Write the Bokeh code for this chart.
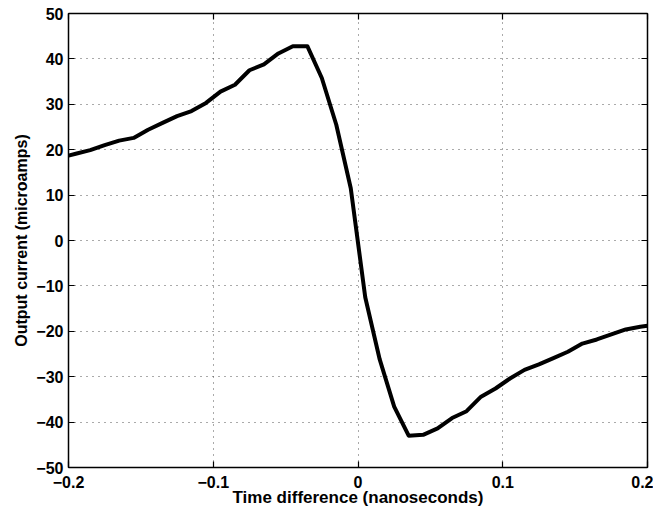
from bokeh.plotting import figure
from bokeh.models import LinearAxis, FixedTicker, CustomJSTickFormatter, Range1d
from bokeh.embed import file_html
from bokeh.resources import INLINE

# Data
time_ns = [-0.2, -0.195, -0.185, -0.175, -0.165, -0.155, -0.145, -0.135, -0.125, -0.115,
           -0.105, -0.095, -0.085, -0.075, -0.065, -0.055, -0.045, -0.035, -0.025, -0.015,
           -0.005, 0.005, 0.015, 0.025, 0.035, 0.045, 0.055, 0.065, 0.075, 0.085,
           0.095, 0.105, 0.115, 0.125, 0.135, 0.145, 0.155, 0.165, 0.175, 0.185,
           0.195, 0.2]
current_ua = [18.7, 19.1, 19.9, 21.0, 22.0, 22.6, 24.4, 25.9, 27.4, 28.5,
              30.3, 32.8, 34.3, 37.5, 38.8, 41.2, 42.8, 42.8, 35.8, 25.5,
              11.5, -12.5, -26.2, -36.6, -43.0, -42.8, -41.4, -39.1, -37.6, -34.4,
              -32.6, -30.4, -28.5, -27.3, -25.9, -24.5, -22.7, -21.8, -20.7, -19.6,
              -19.0, -18.8]
x_ticks = [-0.2, -0.1, 0.0, 0.1, 0.2]
y_ticks = [-50, -40, -30, -20, -10, 0, 10, 20, 30, 40, 50]
x_label = "Time difference (nanoseconds)"
y_label = "Output current (microamps)"

FONT = "Liberation Sans"

p = figure(width=653, height=512, output_backend="svg", toolbar_location=None,
           x_range=Range1d(-0.2, 0.2), y_range=Range1d(-50, 50),
           min_border_left=68, min_border_right=6, min_border_top=13, min_border_bottom=45,
           x_axis_label=x_label, y_axis_label=y_label)
p.outline_line_color = "black"
p.background_fill_color = "white"
p.border_fill_color = "white"

xfmt = CustomJSTickFormatter(code="""
if (Math.abs(tick) < 1e-9) { return '0'; }
return tick.toFixed(1).replace('-', '\u2212');
""")
yfmt = CustomJSTickFormatter(code="""
return tick.toFixed(0).replace('-', '\u2212');
""")
blank = CustomJSTickFormatter(code="return '';")

for ax in p.xaxis:
    ax.ticker = FixedTicker(ticks=x_ticks)
    ax.formatter = xfmt
for ax in p.yaxis:
    ax.ticker = FixedTicker(ticks=y_ticks)
    ax.formatter = yfmt

for ax in list(p.xaxis) + list(p.yaxis):
    ax.major_tick_in = 6
    ax.major_tick_out = 0
    ax.minor_tick_line_color = None
    ax.axis_line_color = "black"
    ax.axis_line_width = 1.5
    ax.major_tick_line_color = "black"
    ax.major_tick_line_width = 1.2
    ax.major_label_text_font = FONT
    ax.major_label_text_font_style = "bold"
    ax.major_label_text_font_size = "16px"
    ax.major_label_text_color = "black"
    ax.axis_label_text_font = FONT
    ax.axis_label_text_font_style = "bold"
    ax.axis_label_text_color = "black"

p.xaxis.axis_label_text_font_size = "17px"
p.yaxis.axis_label_text_font_size = "16px"
p.xaxis.major_label_standoff = 8
p.xaxis.axis_label_standoff = -3
p.yaxis.major_label_standoff = 5
p.yaxis.axis_label_standoff = 3

# top and right box axes with inward ticks
top = LinearAxis(ticker=FixedTicker(ticks=x_ticks), formatter=blank)
right = LinearAxis(ticker=FixedTicker(ticks=y_ticks), formatter=blank)
for ax in (top, right):
    ax.major_tick_in = 6
    ax.major_tick_out = 0
    ax.minor_tick_line_color = None
    ax.axis_line_color = "black"
    ax.axis_line_width = 1.5
    ax.major_tick_line_color = "black"
    ax.major_tick_line_width = 1.2
    ax.major_label_standoff = 0
    ax.major_label_text_font_size = "1px"
p.add_layout(top, "above")
p.add_layout(right, "right")

p.xgrid.ticker = FixedTicker(ticks=x_ticks)
p.ygrid.ticker = FixedTicker(ticks=y_ticks)
for g in (p.xgrid, p.ygrid):
    g.grid_line_color = "#444444"
    g.grid_line_dash = "1 5"
    g.grid_line_width = 1
    g.grid_line_alpha = 0.9

p.line(time_ns, current_ua, line_color="black", line_width=4, line_join="round")

open("out.html", "w").write(file_html(p, INLINE))
